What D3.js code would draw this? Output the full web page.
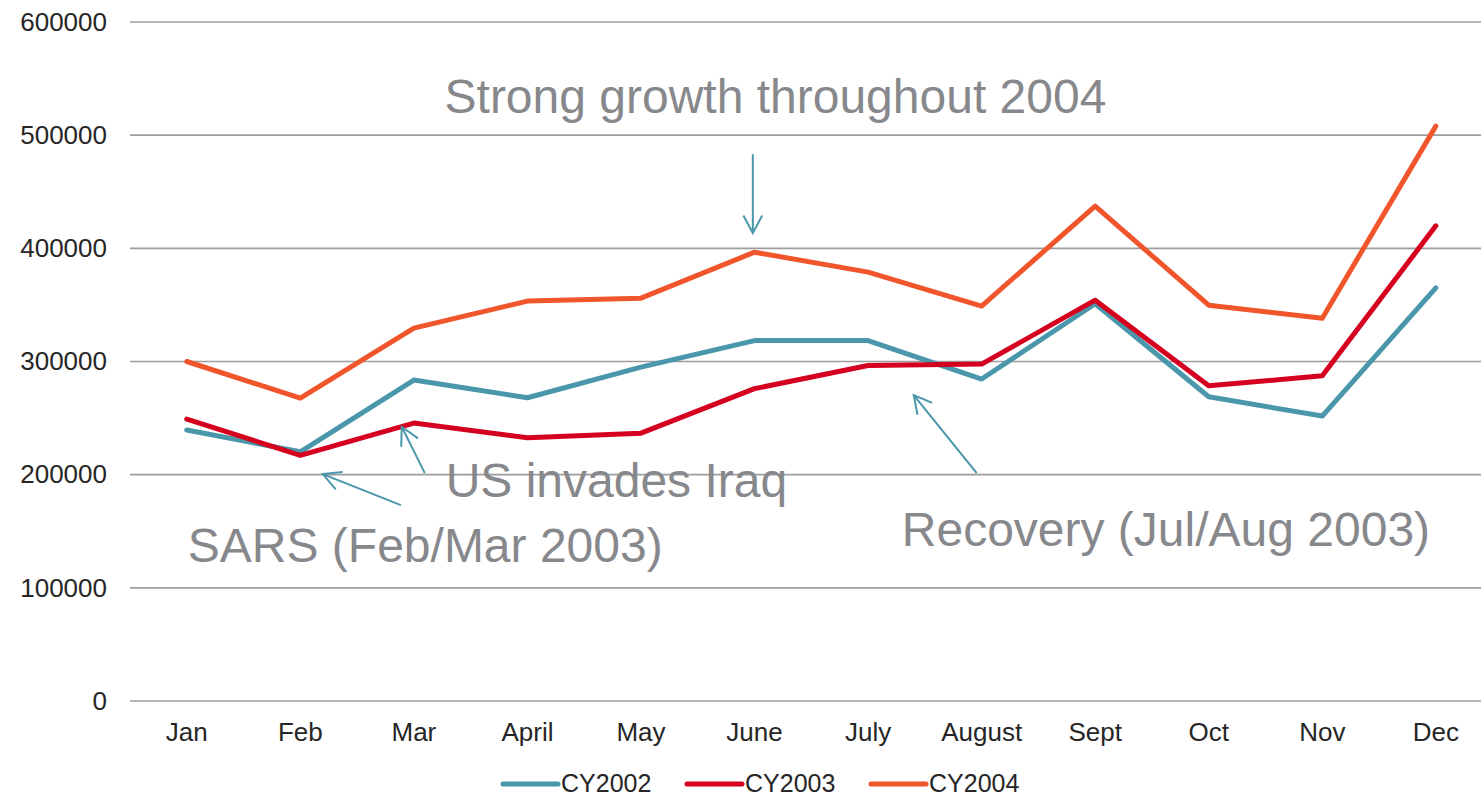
<!DOCTYPE html>
<html>
<head>
<meta charset="utf-8">
<script src="https://cdn.jsdelivr.net/npm/d3@7/dist/d3.min.js"></script>
<style>
  html, body { margin: 0; padding: 0; background: #fff; }
  svg { display: block; font-family: "Liberation Sans", Arial, sans-serif; }
</style>
</head>
<body>
<svg id="chart" width="1481" height="798"></svg>
<script>
// ---- data ----
const months = ["Jan","Feb","Mar","April","May","June","July","August","Sept","Oct","Nov","Dec"];
const cy2002 = [239400, 220200, 283600, 268000, 295000, 318500, 318500, 284500, 351000, 268800, 251800, 365100];
const cy2003 = [249100, 217000, 245600, 232600, 236700, 276000, 296500, 297700, 354200, 278500, 287400, 419900];
const cy2004 = [300000, 267700, 329500, 353400, 356000, 396600, 379000, 349000, 437300, 349800, 338300, 508000];
const seriesNames = ["CY2002", "CY2003", "CY2004"];
const yTicks = [0, 100000, 200000, 300000, 400000, 500000, 600000];

// annotations in data space: [month index, value]
const annotations = [
  { text: "Strong growth throughout 2004", at: [2.27, 519400], from: [4.985, 483200], to: [4.985, 413400] },
  { text: "US invades Iraq", at: [2.28, 180200], from: [2.096, 201400], to: [1.893, 242300] },
  { text: "SARS (Feb/Mar 2003)", at: [0.009, 122800], from: [1.885, 173100], to: [1.198, 200500] },
  { text: "Recovery (Jul/Aug 2003)", at: [6.297, 136900], from: [6.957, 201400], to: [6.402, 270300] }
];

const colors = ["#4a97ab", "#d5001f", "#f1552c"];
const series = [cy2002, cy2003, cy2004];

// ---- layout ----
const W = 1481, H = 798;
const plotLeft = 130, plotTop = 22, plotBottom = 701;
const step = 113.55;

const svg = d3.select("#chart");

const x = d3.scaleBand().domain(months).range([plotLeft, plotLeft + step * months.length]).paddingInner(0).paddingOuter(0);
const y = d3.scaleLinear().domain([0, 600000]).range([plotBottom, plotTop]);

const xc = m => x(m) + x.bandwidth() / 2;
const xi = d3.scaleLinear().domain([0, 1]).range([xc(months[0]), xc(months[1])]);

// gridlines
svg.append("g").selectAll("line").data(yTicks).join("line")
  .attr("x1", plotLeft).attr("x2", W)
  .attr("y1", d => y(d)).attr("y2", d => y(d))
  .attr("stroke", "#9d9d9d").attr("stroke-width", 1.6);

// y axis labels
const yAxis = d3.axisLeft(y).tickValues(yTicks).tickSize(0).tickPadding(0).tickFormat(d3.format("d"));
const gy = svg.append("g").attr("transform", `translate(107,0)`).call(yAxis);
gy.select(".domain").remove();
gy.selectAll("text").attr("font-size", 26).attr("fill", "#262626")
  .attr("font-family", "'Liberation Sans', Arial, sans-serif");

// x axis labels
const xAxis = d3.axisBottom(x).tickSize(0).tickPadding(0);
const gx = svg.append("g").attr("transform", `translate(0,${plotBottom})`).call(xAxis);
gx.select(".domain").remove();
gx.selectAll("text").attr("font-size", 26).attr("fill", "#262626").attr("dy", null).attr("y", 40)
  .attr("font-family", "'Liberation Sans', Arial, sans-serif");

// lines
const line = d3.line().x((d, i) => xc(months[i])).y(d => y(d));
svg.append("g").selectAll("path").data(series).join("path")
  .attr("d", d => line(d))
  .attr("fill", "none")
  .attr("stroke", (d, i) => colors[i])
  .attr("stroke-width", 5)
  .attr("stroke-linecap", "round")
  .attr("stroke-linejoin", "round");

// annotations
const ag = svg.append("g");
annotations.forEach(a => {
  const x1 = xi(a.from[0]), y1 = y(a.from[1]);
  const x2 = xi(a.to[0]), y2 = y(a.to[1]);
  const ang = Math.atan2(y1 - y2, x1 - x2);
  const L = 20, spread = 28 * Math.PI / 180;
  const h1 = [x2 + L * Math.cos(ang + spread), y2 + L * Math.sin(ang + spread)];
  const h2 = [x2 + L * Math.cos(ang - spread), y2 + L * Math.sin(ang - spread)];
  ag.append("path")
    .attr("d", `M${x1},${y1}L${x2},${y2}M${h1[0]},${h1[1]}L${x2},${y2}L${h2[0]},${h2[1]}`)
    .attr("fill", "none").attr("stroke", "#4a97ab").attr("stroke-width", 2);
  ag.append("text")
    .attr("x", xi(a.at[0])).attr("y", y(a.at[1]))
    .attr("font-size", 48).attr("fill", "#87888c")
    .text(a.text);
});

// legend
const legendX = 503, legendStep = 184, legendY = 784;
const lg = svg.append("g").selectAll("g").data(seriesNames).join("g")
  .attr("transform", (d, i) => `translate(${legendX + i * legendStep},${legendY})`);
lg.append("line").attr("x1", 0).attr("x2", 55).attr("y1", 0).attr("y2", 0)
  .attr("stroke", (d, i) => colors[i]).attr("stroke-width", 5).attr("stroke-linecap", "round");
lg.append("text").attr("x", 58).attr("y", 8).attr("font-size", 25).attr("fill", "#262626").text(d => d);
</script>
</body>
</html>
